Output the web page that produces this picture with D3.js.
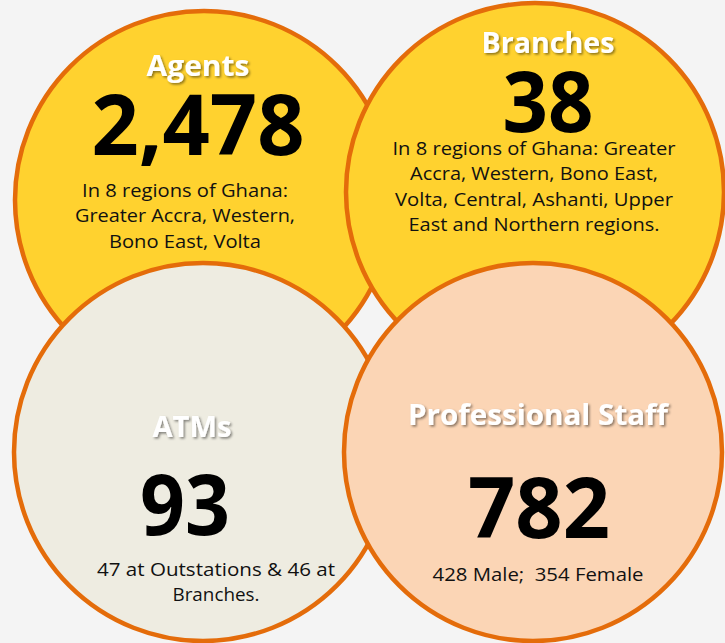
<!DOCTYPE html>
<html>
<head>
<meta charset="utf-8">
<script src="https://cdn.jsdelivr.net/npm/d3@7"></script>
<style>
  html, body { margin: 0; padding: 0; background: #f4f4f4; }
  svg { display: block; }
</style>
</head>
<body>
<svg id="chart" width="725" height="643"></svg>
<script>
// ---------- DATA ----------
const categories = ["Agents", "Branches", "ATMs", "Professional Staff"];
const values = [2478, 38, 93, 782];
const descriptions = [
  ["In 8 regions of Ghana:", "Greater Accra, Western,", "Bono East, Volta"],
  ["In 8 regions of Ghana: Greater", "Accra, Western, Bono East,", "Volta, Central, Ashanti, Upper", "East and Northern regions."],
  ["47 at Outstations & 46 at", "Branches."],
  ["428 Male;  354 Female"]
];

// ---------- LAYOUT / STYLE ----------
const W = 725, H = 643;
const fills = ["#FFD22F", "#FFD22F", "#EEECE1", "#FBD5B5"];
const strokeColor = "#E46C0A";
const layout = [
  // circle centre, title baseline/centre, number baseline/centre, desc first baseline/centre, widths
  { cx: 204, cy: 200, tx: 198, ty: 76,  tw: 103, nx: 198, ny: 155, nw: 213, dx: 185, dy: 197, dw: [206, 220, 152] },
  { cx: 535, cy: 192, tx: 548, ty: 53,  tw: 133, nx: 548, ny: 132, nw: 91,  dx: 534, dy: 155, dw: [283, 248, 278, 251] },
  { cx: 203, cy: 452, tx: 192, ty: 437, tw: 79,  nx: 185, ny: 535, nw: 90,  dx: 216, dy: 576, dw: [238, 87] },
  { cx: 533, cy: 452, tx: 538, ty: 425, tw: 260, nx: 539, ny: 538, nw: 142, dx: 538, dy: 581, dw: [211] }
];
const R = 189;
const lineH = 25.3;

const svg = d3.select("#chart");
svg.append("rect").attr("width", W).attr("height", H).attr("fill", "#f4f4f4");

const defs = svg.append("defs");
const f = defs.append("filter").attr("id", "shadow")
  .attr("x", "-20%").attr("y", "-30%").attr("width", "140%").attr("height", "160%");
f.append("feDropShadow").attr("dx", 1.6).attr("dy", 1.6).attr("stdDeviation", 0.9)
  .attr("flood-color", "#000").attr("flood-opacity", 0.45);

const fmt = d3.format(",");
const items = categories.map((c, i) => ({ label: c, value: values[i], desc: descriptions[i], fill: fills[i], L: layout[i] }));

const g = svg.selectAll("g.item").data(items).join("g").attr("class", "item");

g.append("circle")
  .attr("cx", d => d.L.cx).attr("cy", d => d.L.cy).attr("r", R)
  .attr("fill", d => d.fill)
  .attr("stroke", strokeColor).attr("stroke-width", 4.5);

g.append("text")
  .attr("x", d => d.L.tx).attr("y", d => d.L.ty)
  .attr("text-anchor", "middle")
  .attr("font-family", "'Open Sans', 'Noto Sans', sans-serif")
  .attr("font-weight", 700).attr("font-size", 29)
  .attr("fill", "#ffffff")
  .attr("filter", "url(#shadow)")
  .attr("textLength", d => d.L.tw).attr("lengthAdjust", "spacingAndGlyphs")
  .text(d => d.label);

g.append("text")
  .attr("x", d => d.L.nx).attr("y", d => d.L.ny)
  .attr("text-anchor", "middle")
  .attr("font-family", "'Open Sans', 'Noto Sans', sans-serif")
  .attr("font-weight", 700).attr("font-size", 84)
  .attr("fill", "#000")
  .attr("textLength", d => d.L.nw).attr("lengthAdjust", "spacingAndGlyphs")
  .text(d => fmt(d.value));

g.each(function(d) {
  const sel = d3.select(this);
  d.desc.forEach((line, j) => {
    sel.append("text")
      .attr("x", d.L.dx).attr("y", d.L.dy + j * lineH)
      .attr("text-anchor", "middle")
      .attr("font-family", "'Open Sans', 'Noto Sans', sans-serif")
      .attr("font-size", 18.5)
      .attr("fill", "#111")
      .attr("textLength", d.L.dw[j]).attr("lengthAdjust", "spacingAndGlyphs")
      .attr("xml:space", "preserve")
      .text(line);
  });
});
</script>
</body>
</html>
